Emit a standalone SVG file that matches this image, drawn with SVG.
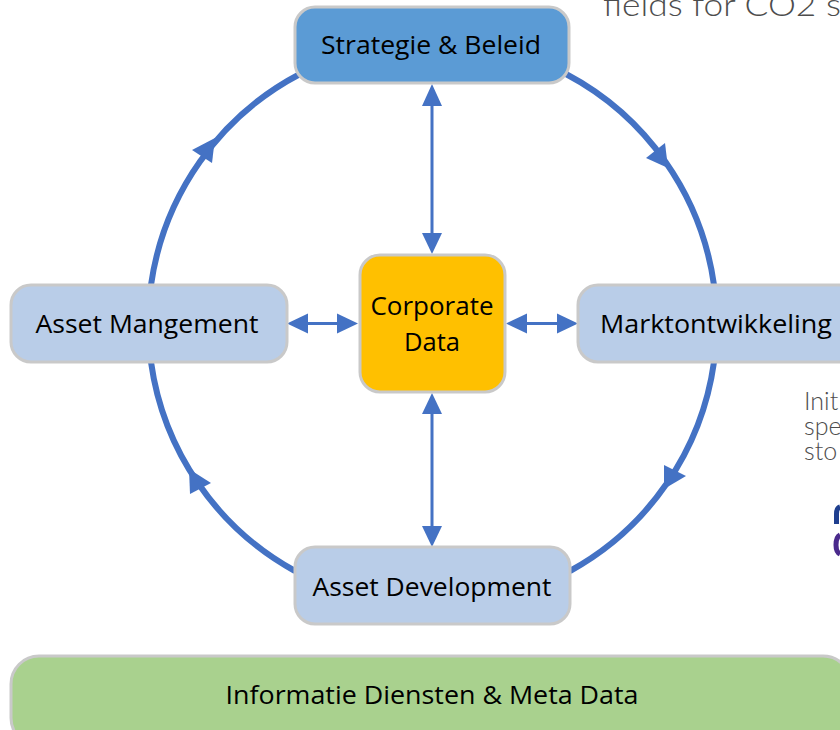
<svg xmlns="http://www.w3.org/2000/svg" width="840" height="730" viewBox="0 0 840 730">
<defs>
<style>
.n{stroke:#c9c9c9;stroke-width:3}
.t{font-family:"Open Sans","Liberation Sans",sans-serif;font-size:25px;fill:#000;text-anchor:middle}
.g{font-family:"Lato","Liberation Sans",sans-serif;font-weight:300;font-size:25px;fill:#4d4d4d}
.ring{fill:none;stroke:#4472c4;stroke-width:6}
.link{fill:none;stroke:#4472c4;stroke-width:3}
.head{fill:#4472c4}
</style>
</defs>
<rect width="840" height="730" fill="#fff"/>
<g id="background-text">
<text class="g" x="603" y="16" style="font-size:32px" textLength="250" lengthAdjust="spacingAndGlyphs">fields for CO2 st</text>
<text class="g" x="804" y="410">Init</text>
<text class="g" x="804" y="435">spe</text>
<text class="g" x="804" y="460">sto</text>
<path d="M836.5 524V514Q836.5 508 840 507" fill="none" stroke="#1f3f8f" stroke-width="5"/>
<path d="M840 535Q836 537 836 545Q836 552 840 554" fill="none" stroke="#4a2a8c" stroke-width="5"/>
</g>
<g id="connectors">
<path class="ring" d="M300 74A283 283 0 0 0 151 285"/>
<path class="ring" d="M566 74A283 283 0 0 1 714 285"/>
<path class="ring" d="M714 362A283 283 0 0 1 570 571"/>
<path class="ring" d="M151 362A283 283 0 0 0 295 571"/>
<polygon class="head" points="215,138 192,150 212,163"/>
<polygon class="head" points="668,168 665,143 646,158"/>
<polygon class="head" points="664,489 664,465 686,476"/>
<polygon class="head" points="189,469 211,483 190,494"/>
<path class="link" d="M432 100V240M432 410V532M304 323.5H342M522 323.5H562"/>
<polygon class="head" points="432,84 422,106 442,106"/>
<polygon class="head" points="432,254 422,233 442,233"/>
<polygon class="head" points="432,393 422,414 442,414"/>
<polygon class="head" points="432,547 422,526 442,526"/>
<polygon class="head" points="287,323.5 308,313.5 308,333.5"/>
<polygon class="head" points="358,323.5 337,313.5 337,333.5"/>
<polygon class="head" points="506,323.5 527,313.5 527,333.5"/>
<polygon class="head" points="578,323.5 557,313.5 557,333.5"/>
</g>
<g id="strategie"><rect class="n" x="295" y="7" width="274" height="76" rx="20" fill="#5b9bd5"/><text class="t" x="431" y="54" textLength="220" lengthAdjust="spacingAndGlyphs">Strategie &amp; Beleid</text></g>
<g id="asset-mangement"><rect class="n" x="11" y="285" width="276" height="77" rx="20" fill="#b9cde8"/><text class="t" x="147" y="333" textLength="223" lengthAdjust="spacingAndGlyphs">Asset Mangement</text></g>
<g id="marktontwikkeling"><rect class="n" x="578" y="285" width="280" height="77" rx="20" fill="#b9cde8"/><text class="t" x="716" y="333" textLength="232" lengthAdjust="spacingAndGlyphs">Marktontwikkeling</text></g>
<g id="corporate-data"><rect class="n" x="360" y="255" width="145" height="137" rx="20" fill="#ffc000"/><text class="t" x="432" y="315" textLength="123" lengthAdjust="spacingAndGlyphs">Corporate</text><text class="t" x="432" y="351" textLength="56" lengthAdjust="spacingAndGlyphs">Data</text></g>
<g id="asset-development"><rect class="n" x="295" y="547" width="275" height="77" rx="20" fill="#b9cde8"/><text class="t" x="432" y="596" textLength="239" lengthAdjust="spacingAndGlyphs">Asset Development</text></g>
<g id="informatie"><rect class="n" x="11" y="656" width="840" height="90" rx="28" fill="#a9d18e"/><text class="t" x="432" y="704" textLength="413" lengthAdjust="spacingAndGlyphs">Informatie Diensten &amp; Meta Data</text></g>
</svg>
